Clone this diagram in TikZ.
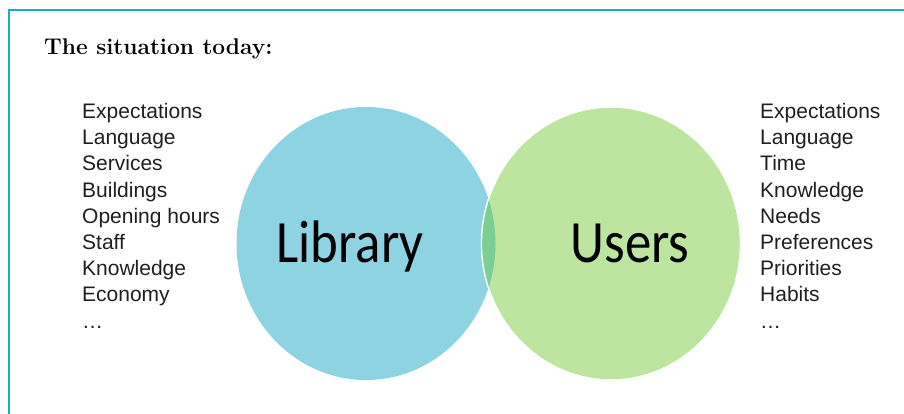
\documentclass[tikz,border=0pt]{standalone}
\usepackage{fontspec}
\newfontfamily\listfont{Liberation Sans}
\newfontfamily\vennfont[FakeStretch=0.88]{Carlito}
\usetikzlibrary{shapes.geometric}
\definecolor{libblue}{RGB}{142,211,226}
\definecolor{usergreen}{RGB}{189,229,160}
\definecolor{lensgreen}{RGB}{124,206,149}
\definecolor{frameline}{RGB}{22,174,200}

\begin{document}
\begin{tikzpicture}[x=1pt,y=-1pt,
  venn/.style={ellipse,inner sep=0pt,minimum width=259pt,minimum height=273pt},
  factors/.style={anchor=north west,align=left,inner sep=0pt,text=black!88,
    font=\listfont\fontsize{21}{26.2}\selectfont},
  vennlabel/.style={anchor=base,inner sep=0pt,font=\vennfont\fontsize{60}{60}\selectfont}]
  \useasboundingbox (0,0) rectangle (904,414);
  \draw[frameline,line width=1.2pt] (904,10) -- (9,10) -- (9,414);

  \node[anchor=base west,inner sep=0pt,font=\bfseries\fontsize{22.7}{22.7}\selectfont]
    (title) at (44,55) {The situation today:};

  \node[venn,fill=libblue] (library) at (366,243.5) {};
  \node[venn,fill=usergreen,draw=white,line width=1.2pt] (users) at (611,243.5) {};
  \begin{scope}
    \clip (library.center) ellipse [x radius=129.5pt,y radius=136.5pt];
    \fill[lensgreen] (users.center) ellipse [x radius=129.5pt,y radius=136.5pt];
  \end{scope}
  \draw[white,line width=1.2pt] (users.center) ellipse [x radius=129.5pt,y radius=136.5pt];

  \node[vennlabel] (libname) at ([shift={(-16,18.5)}]library.center) {Library};
  \node[vennlabel] (username) at ([shift={(19,18.5)}]users.center) {Users};

  \node[factors] (libfactors) at (82,103) {Expectations\\Language\\Services\\Buildings\\
    Opening hours\\Staff\\Knowledge\\Economy\\\dots};
  \node[factors] (userfactors) at (760,103) {Expectations\\Language\\Time\\Knowledge\\
    Needs\\Preferences\\Priorities\\Habits\\\dots};
\end{tikzpicture}
\end{document}
